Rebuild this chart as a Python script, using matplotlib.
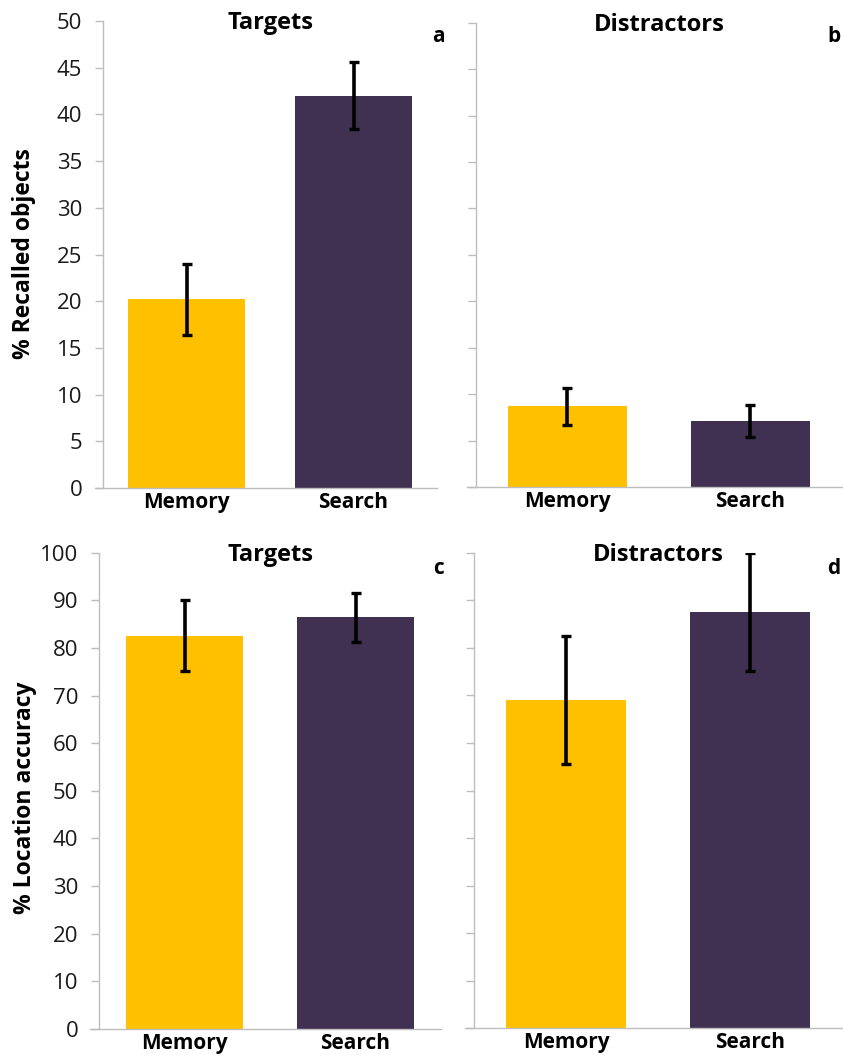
import matplotlib
matplotlib.use("Agg")
import matplotlib.pyplot as plt

# dados
condicoes = ["Memory", "Search"]
cores = ["#FFC000", "#403152"]

recall_alvos = [20.2, 42.0]
recall_alvos_err = [3.8, 3.6]
recall_distr = [8.7, 7.1]
recall_distr_err = [2.0, 1.7]

loc_alvos = [82.6, 86.4]
loc_alvos_err = [7.5, 5.1]
loc_distr = [69.0, 87.6]
loc_distr_err = [13.5, 12.4]

plt.rcParams['font.family'] = ['Open Sans', 'DejaVu Sans']

W, H = 843, 1059
fig = plt.figure(figsize=(W / 100, H / 100), dpi=100)


def eixo(esq, dir_, topo, base):
    # posição em pixels -> fração da figura
    return fig.add_axes([esq / W, 1 - base / H, (dir_ - esq) / W, (base - topo) / H])


def painel(ax, valores, erros, titulo, ymax, passo, largura, ylabel=None, mostrar_y=True):
    x = range(len(condicoes))
    ax.bar(x, valores, width=largura, color=cores, zorder=2)
    ax.errorbar(x, valores, yerr=erros, fmt='none', ecolor='black',
                elinewidth=2.6, capsize=3.5, capthick=2.4, zorder=3)
    ax.set_xlim(-0.5, 1.5)
    ax.set_ylim(0, ymax)
    ax.set_yticks(range(0, ymax + 1, passo))
    if not mostrar_y:
        ax.set_yticklabels([])
    ax.set_xticks(list(x))
    ax.set_xticklabels(condicoes, fontsize=15, fontweight='bold')
    for lado in ['top', 'right']:
        ax.spines[lado].set_visible(False)
    for lado in ['left', 'bottom']:
        ax.spines[lado].set_color('#bdbdbd')
        ax.spines[lado].set_linewidth(1.0)
    ax.spines['bottom'].set_bounds(-0.55, 1.5)
    ax.tick_params(axis='y', colors='#bdbdbd', length=6, width=1.0, labelsize=16,
                   labelcolor='#1a1a1a', pad=9)
    ax.tick_params(axis='x', length=0, pad=3, labelcolor='black')
    ax.text(0.5, 0.995, titulo, transform=ax.transAxes, ha='center', va='center',
            fontsize=17, fontweight='bold')
    if ylabel:
        ax.set_ylabel(ylabel, fontsize=16.5, fontweight='bold')
    return ax


ax_a = eixo(103, 437, 21, 488)
painel(ax_a, recall_alvos, recall_alvos_err, "Targets", 50, 5, 0.70, "% Recalled objects")
ax_b = eixo(476, 842, 22.7, 487)
painel(ax_b, recall_distr, recall_distr_err, "Distractors", 50, 5, 0.65, mostrar_y=False)
ax_c = eixo(99, 441, 552.7, 1029)
painel(ax_c, loc_alvos, loc_alvos_err, "Targets", 100, 10, 0.69, "% Location accuracy")
ax_d = eixo(474, 842, 552.7, 1028.3)
painel(ax_d, loc_distr, loc_distr_err, "Distractors", 100, 10, 0.65, mostrar_y=False)

# letras dos painéis, junto à borda direita
for letra, px, py in [("a", 438, 37), ("b", 834, 37), ("c", 438, 568), ("d", 834, 568)]:
    fig.text(px / W, 1 - py / H, letra, ha='center', va='center',
             fontsize=15, fontweight='bold')

# rótulo do eixo y: borda direita do texto em ~36 px
ax_a.yaxis.set_label_coords(36 / W, (1 - 254 / H), transform=fig.transFigure)
ax_c.yaxis.set_label_coords(37 / W, (1 - 798 / H), transform=fig.transFigure)

fig.savefig("out.png", dpi=100)
